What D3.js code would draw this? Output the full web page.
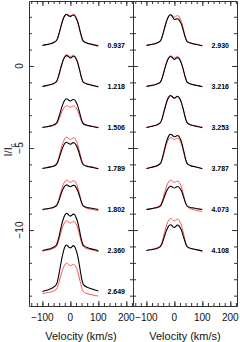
<!DOCTYPE html>
<html><head><meta charset="utf-8">
<script src="https://cdn.jsdelivr.net/npm/d3@7"></script>
<style>html,body{margin:0;padding:0;background:#fff;} svg{display:block;} text{font-family:"Liberation Sans",Arial,Helvetica,sans-serif;}</style>
</head><body>
<svg id="c" width="240" height="342"></svg>
<script>
const velocity = [-100,-85,-70,-60,-50,-45,-40,-35,-30,-25,-20,-15,-10,-5,0,5,10,15,20,25,30,35,40,45,50,60,70,85,100];
const offsets = [0.25,-2.25,-4.75,-7.25,-9.75,-12.25,-14.75];
const leftLabels = ["0.937","1.218","1.506","1.789","1.802","2.360","2.649"];
const rightLabels = ["2.930","3.216","3.253","3.787","4.073","4.108"];

const leftObserved = [
 [1.00,1.05,1.11,1.18,1.29,1.47,1.75,2.07,2.39,2.64,2.82,2.90,2.86,2.79,2.77,2.82,2.86,2.82,2.68,2.49,2.19,1.85,1.52,1.29,1.21,1.14,1.09,1.03,0.97],
 [1.00,1.05,1.12,1.17,1.29,1.48,1.76,2.08,2.37,2.62,2.79,2.88,2.86,2.79,2.74,2.78,2.84,2.82,2.69,2.50,2.20,1.86,1.52,1.29,1.22,1.15,1.10,1.04,0.97],
 [1.00,1.05,1.10,1.16,1.27,1.44,1.70,1.99,2.27,2.50,2.66,2.75,2.72,2.64,2.62,2.66,2.71,2.68,2.56,2.38,2.10,1.79,1.48,1.27,1.20,1.14,1.10,1.05,0.99],
 [1.00,1.05,1.10,1.14,1.24,1.40,1.64,1.91,2.17,2.38,2.53,2.60,2.57,2.51,2.48,2.52,2.58,2.55,2.44,2.27,2.01,1.73,1.45,1.26,1.19,1.13,1.10,1.05,0.99],
 [1.00,1.05,1.09,1.14,1.23,1.38,1.60,1.86,2.10,2.29,2.43,2.50,2.48,2.42,2.39,2.43,2.47,2.46,2.35,2.20,1.96,1.69,1.42,1.24,1.18,1.12,1.09,1.05,1.00],
 [1.00,1.06,1.13,1.20,1.34,1.57,1.90,2.29,2.65,2.94,3.15,3.26,3.24,3.14,3.10,3.16,3.22,3.19,3.03,2.80,2.44,2.03,1.63,1.36,1.27,1.18,1.13,1.06,0.98],
 [1.00,1.08,1.17,1.27,1.43,1.71,2.14,2.62,3.07,3.44,3.71,3.84,3.79,3.70,3.66,3.72,3.80,3.74,3.55,3.26,2.82,2.32,1.82,1.48,1.37,1.26,1.20,1.11,1.03]
];
const leftModel = [
 [1.00,1.06,1.12,1.17,1.28,1.46,1.76,2.09,2.39,2.64,2.81,2.89,2.88,2.83,2.80,2.84,2.90,2.88,2.75,2.55,2.25,1.90,1.56,1.33,1.24,1.16,1.11,1.05,1.00],
 [1.00,1.06,1.12,1.18,1.29,1.49,1.78,2.11,2.42,2.67,2.85,2.94,2.93,2.87,2.82,2.86,2.91,2.88,2.74,2.55,2.24,1.89,1.54,1.31,1.23,1.16,1.11,1.05,1.00],
 [1.00,1.04,1.08,1.12,1.20,1.33,1.53,1.76,1.97,2.14,2.26,2.33,2.32,2.26,2.24,2.27,2.31,2.29,2.20,2.06,1.85,1.61,1.37,1.21,1.16,1.11,1.08,1.04,1.00],
 [1.00,1.06,1.11,1.17,1.29,1.48,1.76,2.09,2.39,2.64,2.81,2.91,2.89,2.81,2.78,2.81,2.87,2.85,2.72,2.53,2.22,1.88,1.53,1.31,1.23,1.15,1.11,1.06,1.00],
 [0.98,1.02,1.07,1.12,1.24,1.43,1.70,2.01,2.30,2.54,2.70,2.79,2.77,2.70,2.66,2.70,2.75,2.74,2.61,2.43,2.13,1.79,1.46,1.23,1.15,1.07,1.03,0.98,0.93],
 [0.96,1.02,1.07,1.13,1.24,1.42,1.70,2.01,2.31,2.55,2.72,2.81,2.79,2.72,2.68,2.72,2.77,2.75,2.63,2.44,2.14,1.81,1.48,1.26,1.18,1.11,1.07,1.01,0.94],
 [0.87,0.93,0.98,1.03,1.14,1.33,1.61,1.93,2.22,2.47,2.63,2.72,2.70,2.62,2.58,2.61,2.66,2.63,2.49,2.29,1.98,1.62,1.27,1.03,0.95,0.87,0.83,0.77,0.73]
];
const rightObserved = [
 [1.00,1.05,1.11,1.17,1.28,1.47,1.75,2.07,2.37,2.62,2.79,2.87,2.84,2.70,2.58,2.60,2.63,2.60,2.48,2.30,2.03,1.72,1.45,1.25,1.19,1.13,1.09,1.04,0.97],
 [1.00,1.05,1.11,1.16,1.27,1.45,1.73,2.04,2.33,2.57,2.74,2.83,2.80,2.70,2.65,2.70,2.76,2.73,2.60,2.41,2.13,1.81,1.50,1.28,1.21,1.14,1.10,1.05,0.98],
 [1.00,1.06,1.12,1.18,1.30,1.49,1.79,2.12,2.43,2.69,2.87,2.95,2.92,2.84,2.79,2.84,2.90,2.87,2.73,2.52,2.22,1.88,1.54,1.31,1.23,1.15,1.11,1.05,0.99],
 [1.00,1.06,1.13,1.19,1.31,1.52,1.84,2.19,2.53,2.80,2.99,3.09,3.07,2.99,2.94,2.96,3.01,2.98,2.85,2.64,2.32,1.95,1.58,1.33,1.25,1.16,1.12,1.06,0.99],
 [1.00,1.04,1.09,1.13,1.21,1.36,1.57,1.81,2.04,2.22,2.35,2.42,2.40,2.34,2.31,2.35,2.40,2.38,2.28,2.14,1.91,1.65,1.40,1.23,1.17,1.11,1.09,1.04,1.00],
 [1.00,1.05,1.09,1.14,1.24,1.39,1.63,1.89,2.15,2.35,2.50,2.57,2.54,2.44,2.41,2.47,2.55,2.53,2.41,2.25,1.99,1.71,1.43,1.25,1.19,1.13,1.09,1.04,0.98]
];
const rightModel = [
 [1.00,1.06,1.11,1.17,1.28,1.46,1.74,2.06,2.36,2.61,2.78,2.86,2.85,2.77,2.72,2.76,2.82,2.80,2.66,2.46,2.15,1.82,1.49,1.28,1.21,1.14,1.10,1.05,0.99],
 [1.00,1.06,1.11,1.17,1.28,1.47,1.75,2.07,2.37,2.61,2.78,2.87,2.85,2.78,2.74,2.77,2.82,2.80,2.66,2.47,2.17,1.84,1.51,1.29,1.22,1.15,1.11,1.05,1.00],
 [1.00,1.06,1.11,1.17,1.29,1.48,1.76,2.09,2.40,2.65,2.82,2.91,2.89,2.82,2.78,2.82,2.88,2.86,2.72,2.53,2.22,1.88,1.54,1.31,1.23,1.15,1.11,1.06,1.00],
 [1.00,1.06,1.11,1.17,1.28,1.47,1.76,2.08,2.38,2.63,2.80,2.89,2.87,2.80,2.76,2.80,2.85,2.83,2.70,2.51,2.21,1.87,1.53,1.30,1.23,1.15,1.11,1.06,1.00],
 [1.00,1.05,1.11,1.16,1.27,1.45,1.72,2.02,2.31,2.54,2.70,2.79,2.77,2.70,2.66,2.69,2.73,2.71,2.57,2.38,2.09,1.75,1.42,1.20,1.11,1.03,0.99,0.92,0.89],
 [1.00,1.06,1.12,1.18,1.29,1.49,1.78,2.11,2.42,2.68,2.85,2.95,2.93,2.85,2.81,2.85,2.91,2.89,2.75,2.55,2.23,1.88,1.52,1.28,1.19,1.11,1.07,1.01,0.96]
];

const xTickLabels = [-100, 0, 100, 200];
const xMinorTicks = [-140,-120,-100,-80,-60,-40,-20,0,20,40,60,80,100,120,140,160,180,200,220];
const yTickLabels = [0, -5, -10];
const yMinorTicks = [-14,-13,-12,-11,-10,-9,-8,-7,-6,-5,-4,-3,-2,-1,0,1,2,3];
const xDomain = [-148, 224];
const yDomain = [-14.63, 3.96];

const svg = d3.select("#c");
const yTop = 1, yBottom = 306;
const y = d3.scaleLinear().domain(yDomain).range([yBottom, yTop]);
const axisColor = "#333";
const fmt = d => d < 0 ? "\u2212" + (-d) : String(d);

const panels = [
  {x0: 29, x1: 133, obs: leftObserved, mod: leftModel, labels: leftLabels},
  {x0: 133, x1: 237, obs: rightObserved, mod: rightModel, labels: rightLabels}
];

panels.forEach(p => {
  const x = d3.scaleLinear().domain(xDomain).range([p.x0, p.x1]);
  const g = svg.append("g").attr("color", axisColor);

  g.append("g").attr("transform", `translate(0,${yBottom})`)
    .call(d3.axisBottom(x).tickValues(xMinorTicks).tickSize(-3).tickSizeOuter(0).tickFormat(""));
  g.append("g").attr("transform", `translate(0,${yBottom})`)
    .call(d3.axisBottom(x).tickValues(xTickLabels).tickSize(-5).tickSizeOuter(0).tickFormat(""))
    .select(".domain").remove();
  g.append("g").attr("transform", `translate(0,${yTop})`)
    .call(d3.axisTop(x).tickValues(xMinorTicks).tickSize(-3).tickSizeOuter(0).tickFormat(""));
  g.append("g").attr("transform", `translate(0,${yTop})`)
    .call(d3.axisTop(x).tickValues(xTickLabels).tickSize(-5).tickSizeOuter(0).tickFormat(""))
    .select(".domain").remove();
  g.append("g").attr("transform", `translate(${p.x0},0)`)
    .call(d3.axisLeft(y).tickValues(yMinorTicks).tickSize(-3).tickSizeOuter(0).tickFormat(""));
  g.append("g").attr("transform", `translate(${p.x0},0)`)
    .call(d3.axisLeft(y).tickValues(yTickLabels).tickSize(-5).tickSizeOuter(0).tickFormat(""))
    .select(".domain").remove();
  g.append("g").attr("transform", `translate(${p.x1},0)`)
    .call(d3.axisRight(y).tickValues(yMinorTicks).tickSize(-3).tickSizeOuter(0).tickFormat(""));
  g.append("g").attr("transform", `translate(${p.x1},0)`)
    .call(d3.axisRight(y).tickValues(yTickLabels).tickSize(-5).tickSizeOuter(0).tickFormat(""))
    .select(".domain").remove();

  svg.append("g").selectAll("text").data(xTickLabels).join("text")
    .attr("x", d => x(d)).attr("y", 321)
    .attr("text-anchor", "middle").attr("font-size", 10).attr("fill", "#111")
    .text(fmt);

  svg.append("text").attr("x", (p.x0 + p.x1) / 2).attr("y", 339.5)
    .attr("text-anchor", "middle").attr("font-size", 11).attr("fill", "#111")
    .text("Velocity (km/s)");

  const line = (off) => d3.line()
    .x((d, i) => x(velocity[i]))
    .y(d => y(d + off))
    .curve(d3.curveCatmullRom.alpha(0.5));

  p.obs.forEach((arr, k) => {
    const off = offsets[k];
    svg.append("path").datum(p.mod[k]).attr("d", line(off))
      .attr("fill", "none").attr("stroke", "#ff3a3a").attr("stroke-width", 0.9);
    svg.append("path").datum(arr).attr("d", line(off))
      .attr("fill", "none").attr("stroke", "#000").attr("stroke-width", 1.1);
    svg.append("text").attr("x", p.x0 + 78.5).attr("y", y(off + 1) + 2.5)
      .attr("font-size", 7).attr("font-weight", "bold").attr("fill", "#000")
      .text(p.labels[k]);
  });
});

svg.append("g").selectAll("text").data(yTickLabels).join("text")
  .attr("transform", d => `translate(23,${y(d)}) rotate(-90)`)
  .attr("text-anchor", "middle").attr("font-size", 10).attr("fill", "#111")
  .text(fmt);

const yt = svg.append("text").attr("transform", "translate(12,150) rotate(-90)")
  .attr("text-anchor", "middle").attr("font-size", 11).attr("fill", "#111");
yt.append("tspan").text("I/I");
yt.append("tspan").attr("font-size", 7.5).attr("dy", 2.5).text("c");
</script>
</body></html>
